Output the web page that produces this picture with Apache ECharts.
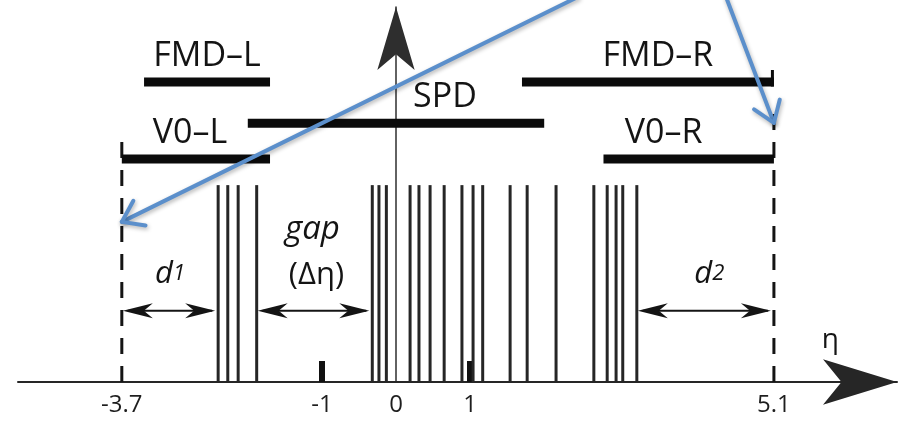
<!DOCTYPE html>
<html>
<head>
<meta charset="utf-8">
<script src="https://cdn.jsdelivr.net/npm/echarts@6/dist/echarts.min.js"></script>
<style>
  html, body { margin: 0; padding: 0; background: #fff; }
  #chart { width: 905px; height: 421px; }
</style>
</head>
<body>
<div id="chart"></div>
<script>
// ---- Detector pseudorapidity coverage ----
const detectorNames  = ['FMD–L', 'V0–L', 'SPD', 'FMD–R', 'V0–R'];
const detectorEtaMin = [-3.4, -3.7, -2.0, 1.7, 2.8];
const detectorEtaMax = [-1.7, -1.7, 2.0, 5.1, 5.1];
const detectorRow    = ['FMD', 'V0', 'SPD', 'FMD', 'V0'];

// ---- Particles of the event (eta of each track) ----
const trackEta = [-2.40, -2.27, -2.13, -1.88,
  -0.32, -0.23, -0.13, 0.19, 0.31, 0.46, 0.65, 0.89, 1.04, 1.17, 1.54, 1.77, 2.16,
  2.67, 2.85, 2.97, 3.06, 3.25];

// ---- Acceptance limits ----
const acceptanceEta = [-3.7, 5.1];

// ---- Rapidity intervals: edge distances and the central gap ----
const intervalNames = ['d1', 'gap', 'd2'];
const intervalFrom  = [-3.7, -1.88, 3.25];
const intervalTo    = [-2.40, -0.32, 5.1];

// ---- Axis ticks ----
const tickValues  = [-3.7, -1, 0, 1, 5.1];
const tickLabels  = ['-3.7', '-1', '0', '1', '5.1'];
const markedTicks = [-1, 1];

// ---- Drawing layout (heights on a 0..100 scale) ----
const LAYOUT = {
  rowLevel: { FMD: 80, SPD: 69, V0: 59.5 },
  barHeight: 9,
  labelRise: 26,
  labelDx: { 'FMD–L': 0, 'V0–L': -6, 'SPD': 49, 'FMD–R': 10, 'V0–R': -25 },
  capRight: { 'FMD–R': 83.2 },
  trackTop: 52.5,
  boundaryTop: [65.9, 74.4],
  intervalLevel: 19,
  pointerStart: [[2.456, 102.7], [4.453, 102.7]],
  pointerTipLevel: [42.7, 69.1],
  etaLabel: [5.86, 11.2]
};

const FONT = "'Open Sans', 'Noto Sans', sans-serif";
const INK = '#141414';
const BLUE = '#5b8fcb';

const chart = echarts.init(document.getElementById('chart'), null, { renderer: 'canvas' });

function arrowHead(tip, dir, len, halfW, notch) {
  // dir: +1 points right, -1 points left
  return [
    [tip[0], tip[1]],
    [tip[0] - dir * len, tip[1] - halfW],
    [tip[0] - dir * notch, tip[1]],
    [tip[0] - dir * len, tip[1] + halfW]
  ];
}

const option = {
  backgroundColor: '#fff',
  animation: false,
  grid: { left: 18, right: 8, top: 7, bottom: 39, outerBoundsMode: 'none', containLabel: false },
  xAxis: {
    type: 'value',
    min: -5.101,
    max: 6.761,
    splitLine: { show: false },
    axisLine: {
      show: true, onZero: true,
      symbol: ['none', 'arrow'], symbolSize: [34, 74],
      lineStyle: { color: '#262626', width: 2 }
    },
    axisTick: {
      show: true, inside: true, length: 21, customValues: markedTicks,
      lineStyle: { color: '#111', width: 6 }
    },
    axisLabel: {
      show: true, margin: 11, customValues: tickValues,
      fontSize: 24, fontFamily: FONT, color: '#1e1e1e',
      formatter: function (v) {
        const k = tickValues.indexOf(v);
        return k >= 0 ? tickLabels[k] : String(v);
      }
    }
  },
  yAxis: {
    type: 'value',
    min: 0,
    max: 100,
    splitLine: { show: false },
    axisTick: { show: false },
    axisLabel: { show: false },
    axisLine: {
      show: true, onZero: true,
      symbol: ['none', 'arrow'], symbolSize: [28, 63],
      lineStyle: { color: '#2e2e2e', width: 1.5 }
    }
  },
  series: [
    // Track lines
    {
      type: 'custom', name: 'tracks', z: 3,
      data: trackEta.map(e => [e]),
      renderItem: function (params, api) {
        const eta = api.value(0);
        const a = api.coord([eta, 0]);
        const b = api.coord([eta, LAYOUT.trackTop]);
        return {
          type: 'line',
          shape: { x1: a[0], y1: a[1], x2: b[0], y2: b[1] },
          style: { stroke: '#262626', lineWidth: 3 }
        };
      }
    },
    // Acceptance boundaries (dashed)
    {
      type: 'custom', name: 'acceptance', z: 3,
      data: acceptanceEta.map(e => [e]),
      renderItem: function (params, api) {
        const eta = api.value(0);
        const a = api.coord([eta, 0]);
        const b = api.coord([eta, LAYOUT.boundaryTop[params.dataIndex]]);
        return {
          type: 'line',
          shape: { x1: a[0], y1: a[1], x2: b[0], y2: b[1] },
          style: { stroke: INK, lineWidth: 3, lineDash: [16, 12] }
        };
      }
    },
    // Detector coverage bars with names
    {
      type: 'custom', name: 'detectors', z: 4,
      data: detectorNames.map((n, i) => [detectorEtaMin[i], detectorEtaMax[i], LAYOUT.rowLevel[detectorRow[i]]]),
      renderItem: function (params, api) {
        const i = params.dataIndex;
        const name = detectorNames[i];
        const lv = api.value(2);
        const p0 = api.coord([api.value(0), lv]);
        const p1 = api.coord([api.value(1), lv]);
        const h = LAYOUT.barHeight;
        const children = [
          {
            type: 'rect',
            shape: { x: p0[0], y: p0[1] - h / 2, width: p1[0] - p0[0], height: h },
            style: { fill: '#0b0b0b' }
          },
          {
            type: 'text',
            x: (p0[0] + p1[0]) / 2 + LAYOUT.labelDx[name],
            y: p0[1] - LAYOUT.labelRise,
            style: {
              text: name, fontSize: 34, fontFamily: FONT, fill: INK,
              align: 'center', verticalAlign: 'middle'
            }
          }
        ];
        if (LAYOUT.capRight[name] != null) {
          const c = api.coord([api.value(1), LAYOUT.capRight[name]]);
          children.push({
            type: 'rect',
            shape: { x: p1[0] - 3, y: c[1], width: 3, height: p1[1] + h / 2 - c[1] },
            style: { fill: '#0b0b0b' }
          });
        }
        return { type: 'group', children: children };
      }
    },
    // Interval arrows with labels
    {
      type: 'custom', name: 'intervals', z: 5,
      data: intervalNames.map((n, i) => [intervalFrom[i], intervalTo[i]]),
      renderItem: function (params, api) {
        const i = params.dataIndex;
        const lv = LAYOUT.intervalLevel;
        const a = api.coord([api.value(0), lv]);
        const b = api.coord([api.value(1), lv]);
        const mid = (a[0] + b[0]) / 2;
        const children = [
          {
            type: 'line',
            shape: { x1: a[0] + 6, y1: a[1], x2: b[0] - 6, y2: b[1] },
            style: { stroke: INK, lineWidth: 2 }
          },
          { type: 'polygon', shape: { points: arrowHead([a[0] + 1, a[1]], -1, 30, 7.5, 21) }, style: { fill: INK } },
          { type: 'polygon', shape: { points: arrowHead([b[0] - 3, b[1]], 1, 30, 7.5, 21) }, style: { fill: INK } }
        ];
        const name = intervalNames[i];
        if (name === 'gap') {
          children.push({
            type: 'text', x: mid - 2, y: a[1] - 81,
            style: { text: 'gap', fontSize: 33, fontStyle: 'italic', fontFamily: FONT, fill: INK, align: 'center', verticalAlign: 'middle' }
          });
          children.push({
            type: 'text', x: mid + 2, y: a[1] - 36,
            style: { text: '(Δη)', fontSize: 31, fontFamily: FONT, fill: INK, align: 'center', verticalAlign: 'middle' }
          });
        } else {
          children.push({
            type: 'text', x: mid + (name === 'd2' ? 4 : 0), y: a[1] - 37,
            style: {
              text: '{d|d}{s|' + name.slice(1) + '}',
              align: 'center', verticalAlign: 'middle',
              rich: {
                d: { fontSize: 31, fontStyle: 'italic', fontFamily: FONT, fill: INK },
                s: { fontSize: 22, fontStyle: 'italic', fontFamily: FONT, fill: INK, padding: [0, 0, 1, 0] }
              }
            }
          });
        }
        return { type: 'group', children: children };
      }
    },
    // Axis symbol eta
    {
      type: 'custom', name: 'etaSymbol', z: 5,
      data: [LAYOUT.etaLabel],
      renderItem: function (params, api) {
        const p = api.coord([api.value(0), api.value(1)]);
        return {
          type: 'text', x: p[0], y: p[1],
          style: { text: 'η', fontSize: 28, fontFamily: FONT, fill: INK, align: 'center', verticalAlign: 'middle' }
        };
      }
    },
    // Pointer arrows to the acceptance limits
    {
      type: 'custom', name: 'pointers', z: 10,
      data: acceptanceEta.map((e, i) => [e, LAYOUT.pointerTipLevel[i]]),
      renderItem: function (params, api) {
        const i = params.dataIndex;
        const tip = api.coord([api.value(0), api.value(1)]);
        const from = api.coord(LAYOUT.pointerStart[i]);
        const ang = Math.atan2(from[1] - tip[1], from[0] - tip[0]);
        const spread = 35 * Math.PI / 180;
        const len = 24;
        const w1 = [tip[0] + len * Math.cos(ang + spread), tip[1] + len * Math.sin(ang + spread)];
        const w2 = [tip[0] + len * Math.cos(ang - spread), tip[1] + len * Math.sin(ang - spread)];
        const st = {
          stroke: BLUE, lineWidth: 4, lineCap: 'round', lineJoin: 'round', fill: null,
          shadowBlur: 4, shadowColor: 'rgba(0,0,0,0.3)', shadowOffsetX: 1, shadowOffsetY: 2
        };
        return {
          type: 'group',
          children: [
            { type: 'line', shape: { x1: from[0], y1: from[1], x2: tip[0], y2: tip[1] }, style: st },
            { type: 'polyline', shape: { points: [w1, tip, w2] }, style: st }
          ]
        };
      }
    }
  ]
};

chart.setOption(option);
</script>
</body>
</html>
